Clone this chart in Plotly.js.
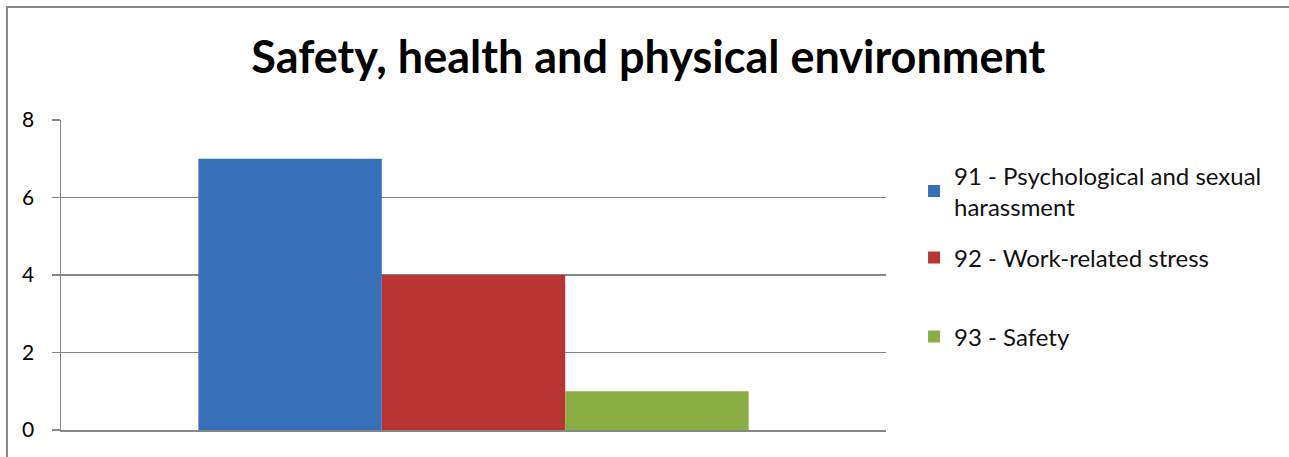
<!DOCTYPE html>
<html>
<head>
<meta charset="utf-8">
<script src="https://cdn.plot.ly/plotly-3.0.1.min.js"></script>
<style>html,body{margin:0;padding:0;background:#fff;}#chart{width:1289px;height:457px;}</style>
</head>
<body>
<div id="chart"></div>
<script>
const chartTitle = "Safety, health and physical environment";
const category = [""];
const seriesNames = ["91 - Psychological and sexual<br>harassment", "92 - Work-related stress", "93 - Safety"];
const seriesValues = [[7], [4], [1]];
const seriesColors = ["#3570b9", "#b93533", "#8aae44"];
const yTicks = [0, 2, 4, 6, 8];

const legendIds = ["legend", "legend2", "legend3"];
const traces = seriesNames.map((n, i) => ({
  type: "bar",
  x: category,
  y: seriesValues[i],
  name: n,
  legend: legendIds[i],
  marker: {color: seriesColors[i], line: {width: 0}},
  hoverinfo: "skip"
}));

const legendFont = {family: "Lato, Carlito, sans-serif", size: 24, color: "#111"};
function mkLegend(y) {
  return {x: 1.034, xanchor: "left", y: y, yanchor: "middle", font: legendFont,
          bgcolor: "rgba(0,0,0,0)", borderwidth: 0, itemwidth: 30, tracegroupgap: 0};
}

const layout = {
  width: 1289, height: 457,
  margin: {l: 61, r: 403, t: 120, b: 27, pad: 0},
  paper_bgcolor: "#fff", plot_bgcolor: "#fff",
  title: {text: "<b>" + chartTitle + "</b>", font: {family: "Lato, Carlito, sans-serif", size: 45, color: "#000"},
          x: 0.503, xref: "container", xanchor: "center", y: 0.875, yref: "container", yanchor: "middle"},
  barmode: "group", bargap: 0.333, bargroupgap: 0,
  showlegend: true,
  legend: mkLegend(0.77),
  legend2: mkLegend(0.555),
  legend3: mkLegend(0.30),
  xaxis: {type: "category", showticklabels: false, showgrid: false, zeroline: false,
          showline: true, linecolor: "#868686", linewidth: 2, ticks: "", fixedrange: true},
  yaxis: {range: [0, 8], tickvals: yTicks, ticktext: yTicks.map(String), showgrid: true, gridcolor: "#868686", gridwidth: 1.3,
          zeroline: false, showline: true, linecolor: "#868686", linewidth: 1.5,
          ticks: "outside", ticklen: 8, tickcolor: "#868686", tickwidth: 1.5,
          tickfont: {family: "Lato, Carlito, sans-serif", size: 21, color: "#000"}, ticklabelstandoff: 13, fixedrange: true},
  shapes: [{type: "rect", xref: "paper", yref: "paper", x0: -0.0655, x1: 1.6, y0: -0.5, y1: 1.3645,
            line: {color: "#868686", width: 2}, fillcolor: "rgba(0,0,0,0)", layer: "below"}]
};

Plotly.newPlot("chart", traces, layout, {displayModeBar: false, staticPlot: true});
</script>
</body>
</html>
